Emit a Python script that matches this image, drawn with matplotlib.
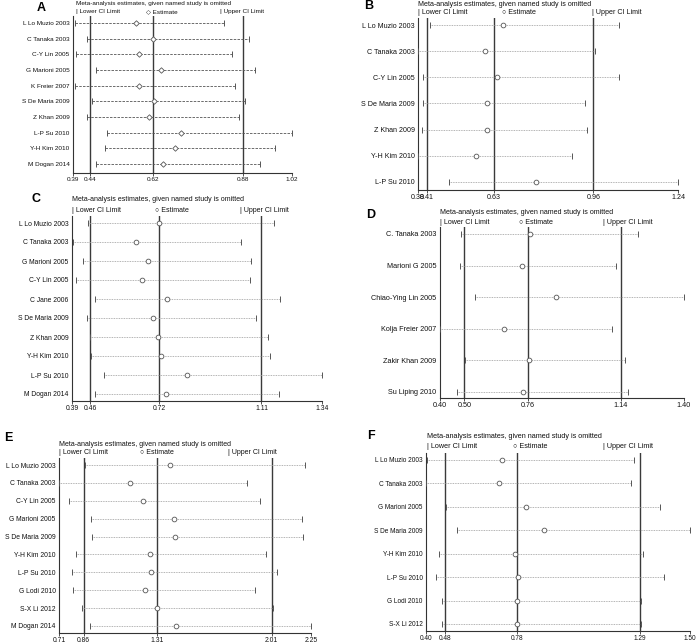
import matplotlib
matplotlib.use("Agg")
import matplotlib.pyplot as plt

plt.rcParams['font.family'] = ['Liberation Sans', 'DejaVu Sans']

W, H = 700, 644

# ---- data ----
studies_a = ["L Lo Muzio 2003", "C Tanaka 2003", "C-Y Lin 2005", "G Marioni 2005", "K Freier 2007",
             "S De Maria 2009", "Z Khan 2009", "L-P Su 2010", "Y-H Kim 2010", "M Dogan 2014"]
lower_a = [0.397, 0.429, 0.400, 0.456, 0.395, 0.444, 0.429, 0.489, 0.481, 0.456]
est_a = [0.571, 0.620, 0.580, 0.644, 0.580, 0.624, 0.610, 0.702, 0.682, 0.649]
upper_a = [0.824, 0.896, 0.847, 0.915, 0.856, 0.886, 0.868, 1.020, 0.971, 0.928]
ticks_a = [0.39, 0.44, 0.62, 0.88, 1.02]

studies_b = ["L Lo Muzio 2003", "C Tanaka 2003", "C-Y Lin 2005", "S De Maria 2009", "Z Khan 2009",
             "Y-H Kim 2010", "L-P Su 2010"]
lower_b = [0.420, 0.380, 0.395, 0.398, 0.394, 0.380, 0.483]
est_b = [0.660, 0.603, 0.640, 0.607, 0.607, 0.573, 0.770]
upper_b = [1.045, 0.966, 1.045, 0.933, 0.938, 0.888, 1.240]
ticks_b = [0.38, 0.41, 0.63, 0.96, 1.24]

studies_c = ["L Lo Muzio 2003", "C Tanaka 2003", "G Marioni 2005", "C-Y Lin 2005", "C Jane 2006",
             "S De Maria 2009", "Z Khan 2009", "Y-H Kim 2010", "L-P Su 2010", "M Dogan 2014"]
lower_c = [0.449, 0.394, 0.433, 0.404, 0.478, 0.447, 0.457, 0.463, 0.511, 0.478]
est_c = [0.720, 0.633, 0.679, 0.655, 0.750, 0.696, 0.717, 0.729, 0.826, 0.749]
upper_c = [1.157, 1.033, 1.070, 1.068, 1.180, 1.089, 1.133, 1.143, 1.340, 1.177]
ticks_c = [0.39, 0.46, 0.72, 1.11, 1.34]

studies_d = ["C. Tanaka 2003", "Marioni G 2005", "Chiao-Ying Lin 2005", "Kolja Freier 2007",
             "Zakir Khan 2009", "Su Liping 2010"]
lower_d = [0.487, 0.483, 0.545, 0.400, 0.502, 0.470]
est_d = [0.767, 0.735, 0.874, 0.662, 0.763, 0.740]
upper_d = [1.211, 1.123, 1.400, 1.105, 1.160, 1.170]
ticks_d = [0.40, 0.50, 0.76, 1.14, 1.40]

studies_e = ["L Lo Muzio 2003", "C Tanaka 2003", "C-Y Lin 2005", "G Marioni 2005", "S De Maria 2009",
             "Y-H Kim 2010", "L-P Su 2010", "G Lodi 2010", "S-X Li 2012", "M Dogan 2014"]
lower_e = [0.871, 0.710, 0.773, 0.907, 0.913, 0.812, 0.789, 0.795, 0.850, 0.901]
est_e = [1.389, 1.145, 1.225, 1.412, 1.416, 1.265, 1.271, 1.233, 1.310, 1.424]
upper_e = [2.215, 1.859, 1.937, 2.193, 2.199, 1.973, 2.042, 1.910, 2.020, 2.250]
ticks_e = [0.71, 0.86, 1.31, 2.01, 2.25]

studies_f = ["L Lo Muzio 2003", "C Tanaka 2003", "G Marioni 2005", "S De Maria 2009", "Y-H Kim 2010",
             "L-P Su 2010", "G Lodi 2010", "S-X Li 2012"]
lower_f = [0.403, 0.400, 0.485, 0.531, 0.456, 0.440, 0.468, 0.468]
est_f = [0.715, 0.706, 0.817, 0.892, 0.769, 0.782, 0.778, 0.781]
upper_f = [1.267, 1.254, 1.374, 1.500, 1.303, 1.392, 1.294, 1.297]
ticks_f = [0.40, 0.48, 0.78, 1.29, 1.50]

title = "Meta-analysis estimates, given named study is omitted"

# layout in pixels: letter pos, spine left/right, first/last row, axis y, title y, legend y, legend x's, font size
panels = [
    dict(letter="A", data=(studies_a, lower_a, est_a, upper_a, ticks_a), lx=41, ly=8,
         left=73, right=292, first=23, last=164, axis=173, ty=4, gy=12, gx=(76, 146, 220),
         fs=4.6, tfs=4.6, dashed=True),
    dict(letter="B", data=(studies_b, lower_b, est_b, upper_b, ticks_b), lx=369, ly=6,
         left=418, right=678, first=25, last=182, axis=190, ty=5, gy=13, gx=(418, 502, 592),
         fs=5.1, tfs=5.1, dashed=False),
    dict(letter="C", data=(studies_c, lower_c, est_c, upper_c, ticks_c), lx=36, ly=199,
         left=72, right=322, first=223, last=394, axis=401, ty=200, gy=210, gx=(72, 155, 240),
         fs=4.9, tfs=5.0, dashed=False),
    dict(letter="D", data=(studies_d, lower_d, est_d, upper_d, ticks_d), lx=371, ly=215,
         left=440, right=684, first=234, last=392, axis=398, ty=212, gy=222, gx=(440, 519, 603),
         fs=5.2, tfs=5.1, dashed=False),
    dict(letter="E", data=(studies_e, lower_e, est_e, upper_e, ticks_e), lx=8, ly=438,
         left=59, right=311, first=465, last=626, axis=633, ty=444, gy=453, gx=(59, 140, 228),
         fs=4.9, tfs=5.0, dashed=False),
    dict(letter="F", data=(studies_f, lower_f, est_f, upper_f, ticks_f), lx=371, ly=436,
         left=426, right=690, first=460, last=624, axis=631, ty=437, gy=446, gx=(427, 513, 603),
         fs=4.7, tfs=5.2, dashed=False),
]

fig = plt.figure(figsize=(W / 100, H / 100), dpi=100)

for p in panels:
    names, lo, est, up, ticks = p["data"]
    n = len(names)
    top = p["first"] - 7
    ax = fig.add_axes([p["left"] / W, 1 - p["axis"] / H,
                       (p["right"] - p["left"]) / W, (p["axis"] - top) / H])
    sp = (p["last"] - p["first"]) / (n - 1)
    rows = list(range(n))
    ax.set_ylim((n - 1) + (p["axis"] - p["last"]) / sp, -(p["first"] - top) / sp)
    ax.set_xlim(ticks[0], ticks[-1])

    for v in ticks[1:4]:
        ax.axvline(v, color="#3a3a3a", lw=1.0, zorder=1)

    if p["dashed"]:
        ax.hlines(rows, lo, up, colors="#555555", lw=0.6, linestyles=(0, (3, 1.5)), zorder=2)
        emark, ems = "D", 2.8
    else:
        ax.hlines(rows, lo, up, colors="#9a9a9a", lw=0.6, linestyles=(0, (1, 1)), zorder=2)
        emark, ems = "o", 3.4
    ax.plot(lo, rows, ls="none", marker="|", ms=4, mew=0.7, color="#555555", zorder=3)
    ax.plot(up, rows, ls="none", marker="|", ms=4, mew=0.7, color="#555555", zorder=3)
    ax.plot(est, rows, ls="none", marker=emark, ms=ems, mfc="white", mec="#555555", mew=0.6, zorder=4)

    for s in ["top", "right"]:
        ax.spines[s].set_visible(False)
    ax.spines["left"].set_linewidth(0.8)
    ax.spines["bottom"].set_linewidth(0.8)
    ax.spines["left"].set_color("#333333")
    ax.spines["bottom"].set_color("#333333")

    ax.set_yticks(rows)
    ax.set_yticklabels(names, fontsize=p["fs"], color="#111111")
    ax.tick_params(axis="y", length=0, pad=2.5)
    ax.set_xticks(ticks)
    ax.set_xticklabels(["%.2f" % t for t in ticks], fontsize=p["fs"], color="#111111")
    ax.tick_params(axis="x", length=2, width=0.6, pad=0.8, color="#333333")

    fig.text(p["lx"] / W, 1 - p["ly"] / H, p["letter"], fontsize=9, fontweight="bold",
             ha="center", va="center")
    fig.text(p["gx"][0] / W, 1 - p["ty"] / H, title, fontsize=p["tfs"], color="#111111",
             ha="left", va="center")
    sym = "\u25c7" if p["dashed"] else "\u25cb"
    legend_items = ["| Lower CI Limit", sym + " Estimate", "| Upper CI Limit"]
    for gx, txt in zip(p["gx"], legend_items):
        fig.text(gx / W, 1 - p["gy"] / H, txt, fontsize=p["tfs"], color="#111111",
                 ha="left", va="center")

fig.savefig("out.png", dpi=100)
